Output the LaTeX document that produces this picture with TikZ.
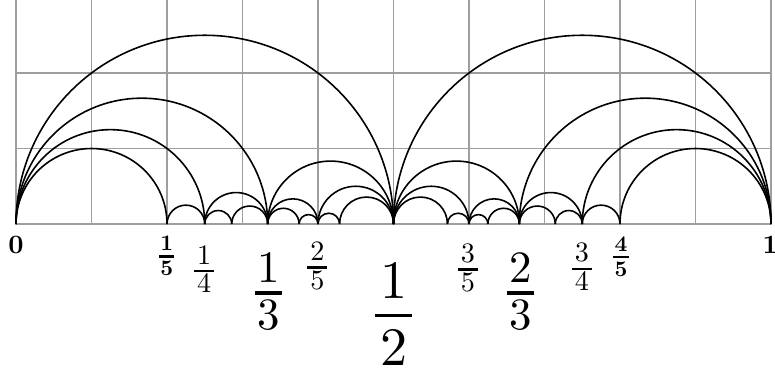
\documentclass[tikz,border=0pt]{standalone}
\usepackage{fontspec}
\setmainfont{lmroman10}[Extension=.otf, UprightFont=*-regular, BoldFont=*-bold]
\tikzset{
  gridline/.style={draw=black!38, line width=0.45pt},
  farc/.style={draw=black, line width=0.6pt},
  S digit/.style={anchor=base, inner sep=0pt, outer sep=0pt, font=\fontsize{10.6}{10.6}\selectfont},
  B digit/.style={anchor=base, inner sep=0pt, outer sep=0pt, font=\fontsize{8.4}{8.4}\selectfont\bfseries},
  M digit/.style={anchor=base, inner sep=0pt, outer sep=0pt, font=\fontsize{16.9}{16.9}\selectfont},
  L digit/.style={anchor=base, inner sep=0pt, outer sep=0pt, font=\fontsize{20.4}{20.4}\selectfont},
  E digit/.style={anchor=base, inner sep=0pt, outer sep=0pt, font=\fontsize{10}{10}\selectfont\bfseries},
  S bar/.style={draw=black, line width=0.95pt},
  B bar/.style={draw=black, line width=1pt},
  M bar/.style={draw=black, line width=1.25pt},
  L bar/.style={draw=black, line width=1.45pt}
}
\def\fyupS{0.093}\def\fydnS{0.290}\def\fyhwS{0.132}
\def\fyupB{0.079}\def\fydnB{0.252}\def\fyhwB{0.101}
\def\fyupM{0.139}\def\fydnM{0.488}\def\fyhwM{0.175}
\def\fyupL{0.228}\def\fydnL{0.656}\def\fyhwL{0.247}
\newcommand{\fareyfrac}[6]{% #1 name, #2 type, #3 x, #4 y of bar, #5 num, #6 den
  \node[#2 digit] (#1-num) at ({#3},{#4+\csname fyup#2\endcsname}) {#5};
  \node[#2 digit] (#1-den) at ({#3},{#4-\csname fydn#2\endcsname}) {#6};
  \coordinate (#1-l) at ({#3-\csname fyhw#2\endcsname},{#4});
  \coordinate (#1-r) at ({#3+\csname fyhw#2\endcsname},{#4});
  \draw[#2 bar] (#1-l) -- (#1-r);}
\begin{document}
\begin{tikzpicture}
\useasboundingbox (-0.212,-2.013) rectangle (10.053,2.967);
% grid
\draw[gridline] (0,0) grid[step=1cm] (10,2.967);
% arcs of the Farey tessellation (left half, then mirror)
\foreach \a/\b/\c/\d in {0/1/1/2, 0/1/1/3, 0/1/1/4, 0/1/1/5, 1/5/1/4, 1/4/2/7, 2/7/1/3, 1/4/1/3,
                        1/3/3/8, 3/8/2/5, 1/3/2/5, 2/5/3/7, 3/7/1/2, 2/5/1/2, 1/3/1/2}{
  \pgfmathsetmacro\xa{10*\a/\b}
  \pgfmathsetmacro\xb{10*\c/\d}
  \pgfmathsetmacro\r{(\xb-\xa)/2}
  \pgfmathsetmacro\ma{10-\xb}
  \coordinate (L-\a-\b-\c-\d) at (\xa,0);
  \coordinate (R-\a-\b-\c-\d) at (\ma,0);
  \draw[farc] (L-\a-\b-\c-\d) arc[start angle=180, end angle=0, radius=\r cm];
  \draw[farc] (R-\a-\b-\c-\d) arc[start angle=180, end angle=0, radius=\r cm];
}
% labels
\node[E digit] (n0) at (0,-0.39) {0};
\node[E digit] (n1) at (9.99,-0.39) {1};
\fareyfrac{n15}{B}{1.996}{-0.433}{1}{5}
\fareyfrac{n45}{B}{8.013}{-0.437}{4}{5}
\fareyfrac{n14}{S}{2.493}{-0.623}{1}{4}
\fareyfrac{n25}{S}{3.991}{-0.578}{2}{5}
\fareyfrac{n35}{S}{5.987}{-0.603}{3}{5}
\fareyfrac{n34}{S}{7.497}{-0.596}{3}{4}
\fareyfrac{n13}{M}{3.342}{-0.914}{1}{3}
\fareyfrac{n23}{M}{6.682}{-0.914}{2}{3}
\fareyfrac{n12}{L}{5.003}{-1.212}{1}{2}
\end{tikzpicture}
\end{document}
